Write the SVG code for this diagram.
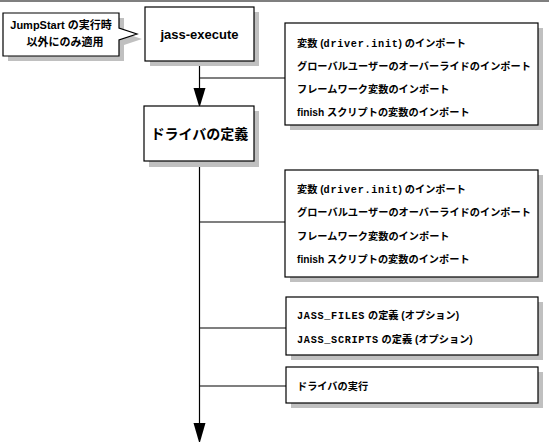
<svg xmlns="http://www.w3.org/2000/svg" width="549" height="446" viewBox="0 0 549 446">
<defs>
<style>
.box{fill:#fff;stroke:#000;stroke-width:1.2}
.sh{fill:#c0c0c0}
.t{font-family:"Liberation Sans","Noto Sans CJK JP",sans-serif;font-weight:bold;fill:#000}
.m{font-family:"Liberation Mono","Noto Sans CJK JP",monospace;font-weight:bold;letter-spacing:0.7px}
.s{font-size:10.2px}
.ln{stroke:#000;stroke-width:1.2;fill:none}
</style>
</defs>
<rect width="549" height="446" fill="#fff"/>
<line x1="0" y1="1" x2="549" y2="1" class="ln"/>
<g id="connectors">
<line x1="199.5" y1="61" x2="199.5" y2="92" class="ln"/>
<line x1="199.5" y1="78" x2="285" y2="78" class="ln"/>
<polygon points="193.5,88 205.5,88 200,106 199,106"/>
<line x1="199.5" y1="161" x2="199.5" y2="428" class="ln"/>
<line x1="199.5" y1="222" x2="285" y2="222" class="ln"/>
<line x1="199.5" y1="328" x2="286" y2="328" class="ln"/>
<line x1="199.5" y1="386" x2="286" y2="386" class="ln"/>
<polygon points="193.5,423 205.5,423 200,442 199,442"/>
</g>
<g id="callout">
<path class="sh" d="M8,18 H124 V33 L142,39 L124,45 V61 H8 Z"/>
<path class="box" d="M3,13 H119 V28 L137,34 L119,40 V56 H3 Z"/>
<text class="t" x="61" y="29" font-size="11" text-anchor="middle">JumpStart の実行時</text>
<text class="t" x="65" y="46" font-size="11" text-anchor="middle">以外にのみ適用</text>
</g>
<g id="jass-execute">
<rect class="sh" x="150" y="12" width="109" height="54"/>
<rect class="box" x="145" y="7" width="109" height="54"/>
<text class="t" x="199.5" y="39" font-size="13" text-anchor="middle">jass-execute</text>
</g>
<g id="driver-def">
<rect class="sh" x="149" y="111" width="110" height="56"/>
<rect class="box" x="144" y="106" width="110" height="55"/>
<text class="t" x="199.5" y="139" font-size="14" text-anchor="middle">ドライバの定義</text>
</g>
<g id="imports1">
<rect class="sh" x="290" y="28" width="253" height="102"/>
<rect class="box" x="285" y="23" width="253" height="102"/>
<text class="t s" x="297" y="47">変数 (<tspan class="m">driver.init</tspan>) のインポート</text>
<text class="t s" x="297" y="70">グローバルユーザーのオーバーライドのインポート</text>
<text class="t s" x="297" y="93">フレームワーク変数のインポート</text>
<text class="t s" x="297" y="116">finish スクリプトの変数のインポート</text>
</g>
<g id="imports2">
<rect class="sh" x="290" y="175" width="253" height="107"/>
<rect class="box" x="285" y="170" width="253" height="107"/>
<text class="t s" x="297" y="193">変数 (<tspan class="m">driver.init</tspan>) のインポート</text>
<text class="t s" x="297" y="216">グローバルユーザーのオーバーライドのインポート</text>
<text class="t s" x="297" y="240">フレームワーク変数のインポート</text>
<text class="t s" x="297" y="263">finish スクリプトの変数のインポート</text>
</g>
<g id="jass-defs">
<rect class="sh" x="291" y="302" width="252" height="58"/>
<rect class="box" x="286" y="297" width="252" height="58"/>
<text class="t s" x="297" y="319"><tspan class="m">JASS_FILES</tspan> の定義 (オプション)</text>
<text class="t s" x="297" y="343"><tspan class="m">JASS_SCRIPTS</tspan> の定義 (オプション)</text>
</g>
<g id="driver-run">
<rect class="sh" x="291" y="372" width="252" height="36"/>
<rect class="box" x="286" y="367" width="252" height="36"/>
<text class="t s" x="297" y="390">ドライバの実行</text>
</g>
</svg>
